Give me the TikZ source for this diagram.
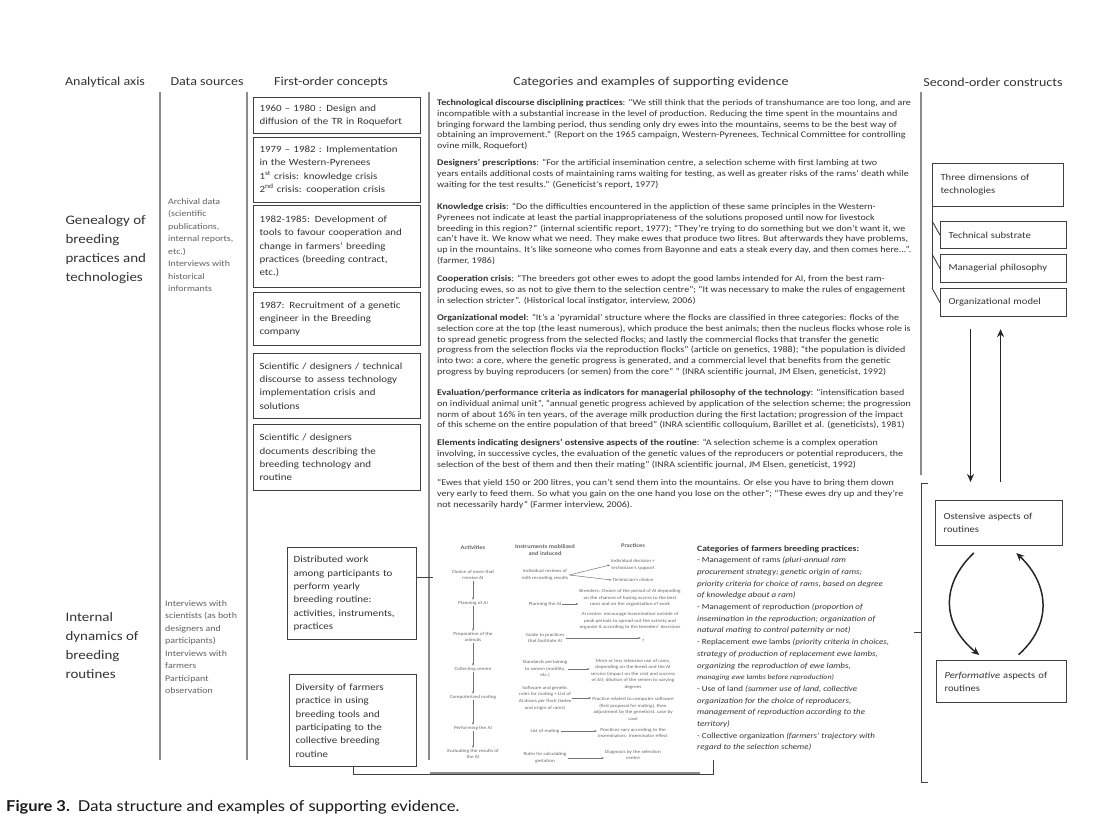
\documentclass[tikz,border=0pt]{standalone}
\usepackage{fontspec}
\setmainfont{Carlito}[FakeStretch=1.15]
\newfontfamily\capfont{Lato}[FakeStretch=1.1]
\usetikzlibrary{arrows.meta}

\definecolor{ink}{gray}{0.2}
\definecolor{boxline}{gray}{0.25}
\definecolor{colrule}{gray}{0.55}
\definecolor{faint}{gray}{0.38}

\tikzset{
  hdr/.style={font=\fontsize{12.2}{14}\selectfont, text=ink},
  axistext/.style={anchor=west, align=left, font=\fontsize{13}{19}\selectfont, text=ink},
  source/.style={anchor=west, align=left, inner sep=0pt, font=\fontsize{8.6}{12.5}\selectfont, text=faint},
  concept/.style={draw=boxline, line width=1.1pt, anchor=north west, align=left, text width=155pt,
    inner xsep=6pt, font=\fontsize{9.5}{13.3}\selectfont, text=ink},
  construct/.style={draw=boxline, line width=1.1pt, anchor=north west, align=left,
    inner xsep=8pt, font=\fontsize{9.2}{13}\selectfont, text=ink},
  evid/.style={anchor=north west, inner sep=0pt, align=left, font=\fontsize{8.7}{10.8}\selectfont, text=ink},
  farm/.style={anchor=north west, inner sep=0pt, align=left, font=\fontsize{7.8}{11.7}\selectfont, text=ink},
  tbl/.style={align=center, inner sep=1pt, font=\fontsize{4.6}{6.6}\selectfont, text=black!60},
  tblhd/.style={tbl, font=\fontsize{5.6}{7}\selectfont\bfseries},
  tarrow/.style={-{Stealth[length=2.5pt, width=2pt]}, draw=black!55, line width=0.5pt},
  rulecol/.style={draw=colrule, line width=2pt},
  link/.style={draw=boxline, line width=0.9pt},
  flow/.style={-{Stealth[length=8pt, width=7pt]}, draw=black!85, line width=1.5pt}
}

\begin{document}
\begin{tikzpicture}[x=1pt, y=-1pt]
\useasboundingbox (0,0) rectangle (1119,840);

% column headers
\node[hdr] (hAxis) at (105,82) {Analytical axis};
\node[hdr] (hSources) at (207,82) {Data sources};
\node[hdr] (hFirst) at (331,82) {First-order concepts};
\node[hdr] (hCateg) at (651,82) {Categories and examples of supporting evidence};
\node[hdr] (hSecond) at (993,82) {Second-order constructs};

% column rules
\draw[rulecol] (160,92) -- (160,760);
\draw[rulecol] (247,92) -- (247,760);
\draw[rulecol] (429,92) -- (429,760);
\draw[rulecol] (921,92) -- (921,475);

% analytical axis
\node[axistext] (genealogy) at (62,250) {Genealogy of\\breeding\\practices and\\technologies};
\node[axistext] (intdyn) at (62,646) {Internal\\dynamics of\\breeding\\routines};

% data sources
\node[source] (archival) at (168,245) {Archival data\\(scientific\\publications,\\internal reports,\\etc.)\\Interviews with\\historical\\informants};
\node[source] (interviews) at (165,647) {Interviews with\\scientists (as both\\designers and\\participants)\\Interviews with\\farmers\\Participant\\observation};

% first-order concepts
\node[concept, minimum height=36pt] (tr6080) at (253,97) {1960 – 1980 : Design and\\diffusion of the TR in Roquefort};
\node[concept, minimum height=65pt] (impl7982) at (253,137) {1979 – 1982 : Implementation\\in the Western-Pyrenees\\1\textsuperscript{st} crisis: knowledge crisis\\2\textsuperscript{nd} crisis: cooperation crisis};
\node[concept, minimum height=82pt] (dev8285) at (253,205) {1982-1985: Development of\\tools to favour cooperation and\\change in farmers’ breeding\\practices (breeding contract,\\etc.)};
\node[concept, minimum height=53pt] (recr87) at (253,292) {1987: Recruitment of a genetic\\engineer in the Breeding\\company};
\node[concept, minimum height=65pt] (discourse) at (253,353) {Scientific / designers / technical\\discourse to assess technology\\implementation crisis and\\solutions};
\node[concept, minimum height=66pt] (documents) at (253,424) {Scientific / designers\\documents describing the\\breeding technology and\\routine};
\node[concept, text width=117pt, minimum height=92pt] (distwork) at (287,547) {Distributed work\\among participants to\\perform yearly\\breeding routine:\\activities, instruments,\\practices};
\node[concept, text width=115pt, minimum height=92pt] (diversity) at (289,674) {Diversity of farmers\\practice in using\\breeding tools and\\participating to the\\collective breeding\\routine};

% categories and examples of supporting evidence
\node[evid] (techdisc) at (437,99) {\textbf{Technological discourse disciplining practices}: “We still think that the periods of transhumance are too long, and are\\
incompatible with a substantial increase in the level of production. Reducing the time spent in the mountains and\\
bringing forward the lambing period, thus sending only dry ewes into the mountains, seems to be the best way of\\
obtaining an improvement.” (Report on the 1965 campaign, Western-Pyrenees, Technical Committee for controlling\\
ovine milk, Roquefort)};
\node[evid] (prescr) at (437,159) {\textbf{Designers’ prescriptions}: “For the artificial insemination centre, a selection scheme with first lambing at two\\
years entails additional costs of maintaining rams waiting for testing, as well as greater risks of the rams’ death while\\
waiting for the test results.” (Geneticist’s report, 1977)};
\node[evid] (knowcrisis) at (437,203) {\textbf{Knowledge crisis}: “Do the difficulties encountered in the appliction of these same principles in the Western-\\
Pyrenees not indicate at least the partial inappropriateness of the solutions proposed until now for livestock\\
breeding in this region?” (internal scientific report, 1977); “They’re trying to do something but we don’t want it, we\\
can’t have it. We know what we need. They make ewes that produce two litres. But afterwards they have problems,\\
up in the mountains. It’s like someone who comes from Bayonne and eats a steak every day, and then comes here...”.\\
(farmer, 1986)};
\node[evid] (coopcrisis) at (437,275) {\textbf{Cooperation crisis}: “The breeders got other ewes to adopt the good lambs intended for AI, from the best ram-\\
producing ewes, so as not to give them to the selection centre”; “It was necessary to make the rules of engagement\\
in selection stricter”. (Historical local instigator, interview, 2006)};
\node[evid] (orgquote) at (437,314) {\textbf{Organizational model}: “It’s a ‘pyramidal’ structure where the flocks are classified in three categories: flocks of the\\
selection core at the top (the least numerous), which produce the best animals; then the nucleus flocks whose role is\\
to spread genetic progress from the selected flocks; and lastly the commercial flocks that transfer the genetic\\
progress from the selection flocks via the reproduction flocks” (article on genetics, 1988); “the population is divided\\
into two: a core, where the genetic progress is generated, and a commercial level that benefits from the genetic\\
progress by buying reproducers (or semen) from the core” ” (INRA scientific journal, JM Elsen, geneticist, 1992)};
\node[evid] (evalcrit) at (437,389) {\textbf{Evaluation/performance criteria as indicators for managerial philosophy of the technology}: “intensification based\\
on individual animal unit”, “annual genetic progress achieved by application of the selection scheme; the progression\\
norm of about 16\% in ten years, of the average milk production during the first lactation; progression of the impact\\
of this scheme on the entire population of that breed” (INRA scientific colloquium, Barillet et al. (geneticists), 1981)};
\node[evid] (ostquote) at (437,439) {\textbf{Elements indicating designers’ ostensive aspects of the routine}: “A selection scheme is a complex operation\\
involving, in successive cycles, the evaluation of the genetic values of the reproducers or potential reproducers, the\\
selection of the best of them and then their mating” (INRA scientific journal, JM Elsen, geneticist, 1992)};
\node[evid] (farmquote) at (437,479) {“Ewes that yield 150 or 200 litres, you can’t send them into the mountains. Or else you have to bring them down\\
very early to feed them. So what you gain on the one hand you lose on the other”; “These ewes dry up and they’re\\
not necessarily hardy” (Farmer interview, 2006).};

% routine table
\node[tblhd] (thAct) at (473,548) {Activities};
\node[tblhd] (thIns) at (545,550) {Instruments mobilized\\and induced};
\node[tblhd] (thPra) at (633,546) {Practices};

\node[tbl] (a1) at (473,575) {Choice of ewes that\\receive AI};
\node[tbl] (a2) at (473,603) {Planning of AI};
\node[tbl] (a3) at (473,637) {Preparation of the\\animals};
\node[tbl] (a4) at (473,669) {Collecting semen};
\node[tbl] (a5) at (473,697) {Computerized mating};
\node[tbl] (a6) at (473,728) {Performing the AI};
\node[tbl] (a7) at (473,754) {Evaluating the results of\\the AI};

\node[tbl] (i1) at (545,575) {Individual reviews of\\milk recording results};
\node[tbl] (i2) at (545,604) {Planning the AI};
\node[tbl] (i3) at (545,638) {Guide to practices\\that facilitate AI};
\node[tbl] (i4) at (545,669) {Standards pertaining\\to semen (motility,\\etc.)};
\node[tbl] (i5) at (545,698) {Software and genetic\\rules for mating + List of\\AI doses per flock (index\\and origin of rams)};
\node[tbl] (i6) at (545,731) {List of mating};
\node[tbl] (i7) at (545,758) {Rules for calculating\\gestation};

\node[tbl] (p1a) at (633,565) {Individual decision +\\technician’s support};
\node[tbl] (p1b) at (633,580) {Technician’s choice};
\node[tbl] (p2a) at (630,598) {Breeders: Choice of the period of AI depending\\on the chances of having access to the best\\rams and on the organization of work};
\node[tbl] (p2b) at (630,621) {AI centre: encourage insemination outside of\\peak periods to spread out the activity and\\organize it according to the breeders’ decisions};
\node[tbl] (p3) at (643,641) {?};
\node[tbl] (p4) at (633,674) {More or less intensive use of rams,\\depending on the breed and the AI\\service (impact on the cost and success\\of AI); dilution of the semen to varying\\degrees};
\node[tbl] (p5) at (633,709) {Practice related to computer software\\(first proposal for mating), then\\adjustment by the geneticist, case by\\case};
\node[tbl] (p6) at (633,733) {Practices vary according to the\\inseminators: inseminator effect};
\node[tbl] (p7) at (633,755) {Diagnosis by the selection\\centre};

\foreach \u/\v in {a1/a2,a2/a3,a3/a4,a4/a5,a5/a6,a6/a7}
  \draw[tarrow] (\u) -- (\v);
\draw[tarrow] (i1.east) -- (p1a.west);
\draw[tarrow] (i1.east) -- (p1b.west);
\foreach \n/\m in {2/2a,3/3,4/4,5/5,6/6,7/7}
  \draw[tarrow] (i\n.east) -- (i\n.east -| p\m.west);
\draw[draw=black!45, line width=2pt] (430,773) -- (700,773);

\node[farm] (farmcats) at (697,545) {{\fontsize{8.3}{11.7}\selectfont\textbf{Categories of farmers breeding practices:}}\\
- Management of rams \textit{(pluri-annual ram}\\
\textit{procurement strategy; genetic origin of rams;}\\
\textit{priority criteria for choice of rams, based on degree}\\
\textit{of knowledge about a ram)}\\
- Management of reproduction \textit{(proportion of}\\
\textit{insemination in the reproduction; organization of}\\
\textit{natural mating to control paternity or not)}\\
- Replacement ewe lambs \textit{(priority criteria in choices,}\\
\textit{strategy of production of replacement ewe lambs,}\\
\textit{organizing the reproduction of ewe lambs,}\\
{\fontsize{6.9}{11.7}\selectfont\textit{managing ewe lambs before reproduction)}}\\
- Use of land \textit{(summer use of land, collective}\\
\textit{organization for the choice of reproducers,}\\
\textit{management of reproduction according to the}\\
\textit{territory)}\\
- Collective organization \textit{(farmers’ trajectory with}\\
\textit{regard to the selection scheme)}};

% links from the first-order boxes
\coordinate (tblin) at (433,577);
\coordinate (farmin) at (713,760);
\draw[link] (distwork.east |- tblin) -- (tblin);
\draw[link] (diversity.south) -- ++(0,7) -| (farmin);

% second-order constructs
\node[construct, text width=115pt, minimum height=43pt] (threedim) at (932,163) {Three dimensions of\\technologies};
\node[construct, text width=110pt, minimum height=27pt] (techsub) at (940,221) {Technical substrate};
\node[construct, text width=110pt, minimum height=28pt] (manphil) at (940,254) {Managerial philosophy};
\node[construct, text width=110pt, minimum height=28pt] (orgmod) at (940,288) {Organizational model};
\node[construct, text width=111pt, minimum height=45pt] (ostens) at (935,500) {Ostensive aspects of\\routines};
\node[construct, text width=114pt, minimum height=42pt] (perform) at (936,660) {\textit{Performative} aspects of\\routines};

\draw[link] (threedim.south west) -- (threedim.south west |- orgmod.north);
\foreach \b in {techsub,manphil,orgmod}
  \draw[link] (threedim.south west |- \b.north) -- (\b.west);

\draw[flow, shorten <=12pt, shorten >=18pt] ([xshift=-33pt]orgmod.south) -- ([xshift=-33pt]orgmod.south |- ostens.north);
\draw[flow, shorten <=18pt, shorten >=12pt] ([xshift=-3pt]orgmod.south |- ostens.north) -- ([xshift=-3pt]orgmod.south);

\draw[flow, shorten <=10pt, shorten >=8pt] ([xshift=-18pt]ostens.south) .. controls (940,585) and (942,625) .. ([xshift=-16pt]perform.north);
\draw[flow, shorten <=8pt, shorten >=10pt] ([xshift=11pt]perform.north) .. controls (1052,625) and (1050,585) .. ([xshift=10pt]ostens.south);

% bracket of the routines
\draw[link] (928,483) -- (921,483) -- (921,782) -- (928,782);
\draw[link] (921,632) -- (914,632);

% caption
\node[anchor=base west, inner sep=0pt, font=\capfont\fontsize{15}{17}\selectfont, text=black!90] (caption) at (6,811) {\textbf{Figure 3.}\hspace{8pt}Data structure and examples of supporting evidence.};
\end{tikzpicture}
\end{document}
